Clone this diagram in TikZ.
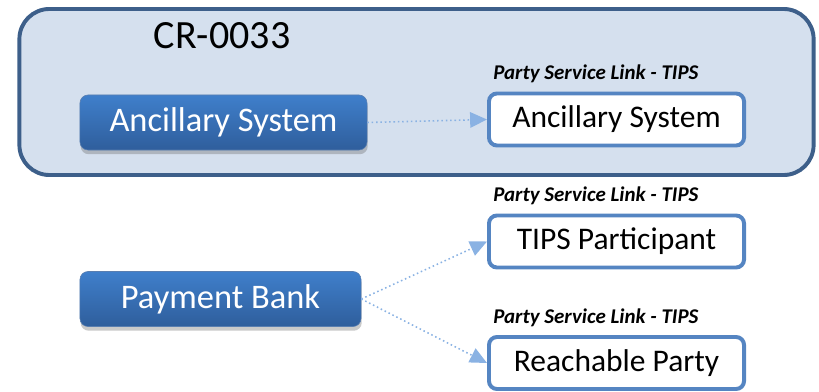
\documentclass[tikz,border=0pt]{standalone}
\usepackage{fontspec}
\setmainfont{Carlito}
\usepackage{xcolor}
\usetikzlibrary{positioning, shadows, arrows.meta}

\definecolor{crfill}{HTML}{D5E0EE}
\definecolor{crdraw}{HTML}{3D5F8A}
\definecolor{bluetop}{HTML}{3F7FCB}
\definecolor{bluebot}{HTML}{2F5E9C}
\definecolor{whitedraw}{HTML}{5585C2}
\definecolor{linkc}{HTML}{8AB2E3}

\begin{document}
\begin{tikzpicture}[x=0.025cm, y=-0.025cm,
  crbox/.style={draw=crdraw, fill=crfill, line width=2.8pt, rounded corners=0.75cm,
    minimum width=19.85cm, minimum height=4.15cm},
  bluebox/.style={draw=bluebot!80!white, line width=0.4pt, rounded corners=0.2cm,
    top color=bluetop, bottom color=bluebot, text=white,
    font=\fontsize{24.5}{28}\selectfont, minimum height=1.375cm,
    drop shadow={shadow xshift=0.5pt, shadow yshift=-3pt, opacity=0.35, fill=black!60}},
  partybox/.style={draw=whitedraw, fill=white, line width=2.8pt, rounded corners=0.2cm,
    font=\fontsize{22.4}{26}\selectfont, minimum width=6.375cm, minimum height=1.3cm},
  linklabel/.style={font=\bfseries\itshape\fontsize{14.9}{17}\selectfont, inner sep=0pt},
  link/.style={draw=linkc, line width=1.1pt, dotted, -{Triangle[length=12pt, width=11pt]}}]
\useasboundingbox (0,0) rectangle (819,392);

% Rahmen
\node[crbox] (cr) at (416.5,92) {};
\node[font=\fontsize{28.5}{32}\selectfont] (crtitle) at (222,36) {CR-0033};

% Parteien
\node[bluebox, minimum width=7.175cm] (anc) at (223.5,122.5) {Ancillary System};
\node[bluebox, minimum width=7.025cm] (pay) at (220.5,299) {Payment Bank};
\node[partybox] (ancp) at (616.5,119.5) {Ancillary System};
\node[partybox] (tips) at (616.5,241.5) {TIPS Participant};
\node[partybox] (reach) at (616.5,363) {Reachable Party};

% Etiketten
\node[linklabel, above right=0.3cm and 0.15cm of ancp.north west, anchor=base west] (l1) {Party Service Link - TIPS};
\node[linklabel, above right=0.3cm and 0.15cm of tips.north west, anchor=base west] (l2) {Party Service Link - TIPS};
\node[linklabel, above right=0.3cm and 0.15cm of reach.north west, anchor=base west] (l3) {Party Service Link - TIPS};

% Verbindungen
\draw[link] (anc.east) -- (ancp.west);
\draw[link] (pay.east) -- (tips.west);
\draw[link] (pay.east) -- (reach.west);
\end{tikzpicture}
\end{document}
